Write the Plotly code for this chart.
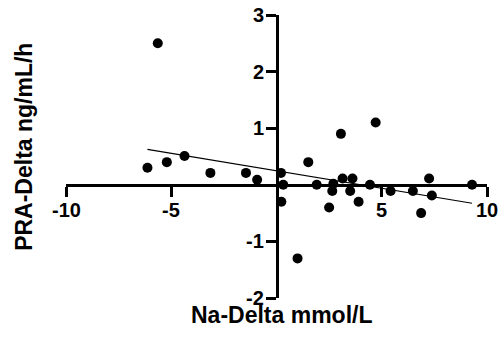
import numpy as np
import plotly.graph_objects as go

# Data
na_delta = [-5.64, -6.13, -5.21, -4.37, -3.14, -1.45, -0.92, 0.21, 0.32, 0.23,
            1.51, 1.91, 1.00, 2.70, 2.65, 2.50, 3.06, 3.14, 3.61, 3.50,
            3.90, 4.44, 4.71, 5.42, 6.48, 6.87, 7.25, 7.38, 9.29]
pra_delta = [2.50, 0.30, 0.40, 0.51, 0.21, 0.21, 0.09, 0.21, 0.00, -0.30,
             0.40, 0.00, -1.30, 0.02, -0.11, -0.40, 0.90, 0.11, 0.11, -0.11,
             -0.30, 0.00, 1.10, -0.11, -0.11, -0.50, 0.11, -0.19, 0.00]

x_ticks = [-10, -5, 5, 10]
y_ticks = [-2, -1, 1, 2, 3]

x_arr = np.array(na_delta)
y_arr = np.array(pra_delta)
slope, intercept = np.polyfit(x_arr, y_arr, 1)
fit_x = np.array([x_arr.min(), x_arr.max()])
fit_y = intercept + slope * fit_x

FONT = "Liberation Sans"
TICK_FONT = dict(family=FONT, size=20, color="black")

fig = go.Figure()
fig.add_trace(go.Scatter(x=fit_x, y=fit_y, mode="lines",
                         line=dict(color="black", width=1.2), hoverinfo="skip"))
fig.add_trace(go.Scatter(x=na_delta, y=pra_delta, mode="markers",
                         marker=dict(color="black", size=10)))

axis_common = dict(showgrid=False, zeroline=False, showline=True, linecolor="black",
                   linewidth=2.5, ticks="outside", ticklen=10, tickwidth=2.5,
                   tickcolor="black", anchor="free", automargin=False,
                   showticklabels=False)

annotations = []
# bold tick labels placed at the tick values of each axis
for v in x_ticks:
    annotations.append(dict(text=f"<b>{v}</b>", xref="x", yref="y", x=v, y=0,
                            xanchor="center", yanchor="middle", yshift=-25,
                            showarrow=False, font=TICK_FONT))
for v in y_ticks:
    annotations.append(dict(text=f"<b>{v}</b>", xref="x", yref="y", x=0, y=v,
                            xanchor="right", yanchor="middle", xshift=-11,
                            showarrow=False, font=TICK_FONT))
annotations += [
    dict(text="<b>Na-Delta mmol/L</b>", xref="paper", yref="paper", x=0.512, y=-0.06,
         xanchor="center", yanchor="middle", showarrow=False,
         font=dict(family=FONT, size=23, color="black")),
    dict(text="<b>PRA-Delta ng/mL/h</b>", xref="paper", yref="paper", x=-0.0998, y=0.534,
         xanchor="center", yanchor="middle", showarrow=False, textangle=-90,
         font=dict(family=FONT, size=23, color="black")),
]

fig.update_layout(
    width=502, height=347,
    margin=dict(l=66, r=15, t=15, b=49, autoexpand=False),
    paper_bgcolor="white", plot_bgcolor="white",
    showlegend=False,
    xaxis=dict(range=[-10, 10], tickvals=x_ticks, position=0.4, **axis_common),
    yaxis=dict(range=[-2, 3], tickvals=y_ticks, position=0.5, **axis_common),
    annotations=annotations,
)

fig.write_html("out.html")
